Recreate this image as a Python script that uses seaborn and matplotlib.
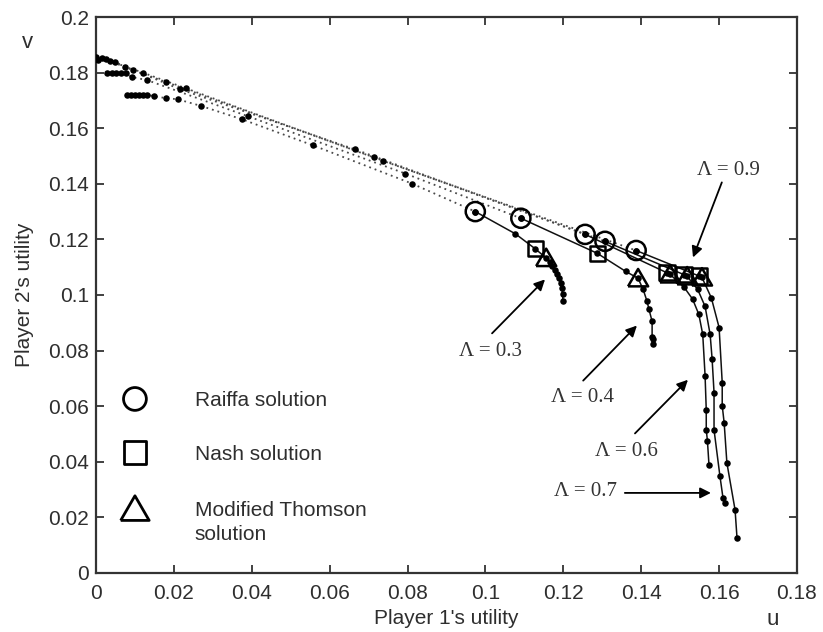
import matplotlib
matplotlib.use("Agg")
import matplotlib.pyplot as plt
import numpy as np
import pandas as pd
import seaborn as sns

# ---------------------------------------------------------------------------
# Utility frontiers for five values of Lambda.
# "upper" = dotted part from the v-axis down to the Raiffa point,
# "lower" = solid part starting at the Raiffa point.
# ---------------------------------------------------------------------------
lambdas = [0.3, 0.4, 0.6, 0.7, 0.9]

upper_u_03 = [0.0080, 0.0090, 0.0100, 0.0110, 0.0120, 0.0132, 0.0149, 0.0180, 0.0210, 0.0270, 0.0375, 0.0556, 0.0811]
upper_v_03 = [0.1720, 0.1720, 0.1720, 0.1720, 0.1720, 0.1720, 0.1715, 0.1708, 0.1704, 0.1680, 0.1632, 0.1539, 0.1401]
lower_u_03 = [0.0974, 0.1077, 0.1128, 0.1156, 0.1165, 0.1172, 0.1179, 0.1185, 0.1189, 0.1193, 0.1196, 0.1198, 0.1199]
lower_v_03 = [0.1300, 0.1220, 0.1166, 0.1133, 0.1120, 0.1106, 0.1091, 0.1075, 0.1060, 0.1043, 0.1025, 0.1005, 0.0980]

upper_u_04 = [0.0028, 0.0040, 0.0052, 0.0064, 0.0076, 0.0092, 0.0131, 0.0390, 0.0794]
upper_v_04 = [0.1798, 0.1798, 0.1798, 0.1798, 0.1798, 0.1784, 0.1773, 0.1643, 0.1437]
lower_u_04 = [0.1091, 0.1287, 0.1360, 0.1392, 0.1405, 0.1415, 0.1420, 0.1428, 0.1428, 0.1429, 0.1430]
lower_v_04 = [0.1276, 0.1150, 0.1085, 0.1060, 0.1020, 0.0977, 0.0948, 0.0905, 0.0850, 0.0840, 0.0822]

upper_u_06 = [0.0000, 0.0015, 0.0049, 0.0095, 0.0216, 0.0665]
upper_v_06 = [0.1855, 0.1852, 0.1838, 0.1810, 0.1740, 0.1524]
lower_u_06 = [0.1256, 0.1466, 0.1474, 0.1510, 0.1532, 0.1548, 0.1558, 0.1564, 0.1567, 0.1567, 0.1570, 0.1574]
lower_v_06 = [0.1218, 0.1080, 0.1074, 0.1028, 0.0985, 0.0930, 0.0858, 0.0710, 0.0587, 0.0515, 0.0476, 0.0389]

upper_u_07 = [0.0000, 0.0025, 0.0074, 0.0180, 0.0714]
upper_v_07 = [0.1850, 0.1848, 0.1820, 0.1766, 0.1495]
lower_u_07 = [0.1307, 0.1510, 0.1518, 0.1545, 0.1564, 0.1577, 0.1582, 0.1587, 0.1587, 0.1602, 0.1610, 0.1615]
lower_v_07 = [0.1193, 0.1073, 0.1067, 0.1020, 0.0959, 0.0858, 0.0771, 0.0649, 0.0515, 0.0350, 0.0270, 0.0252]

upper_u_09 = [0.0005, 0.0035, 0.0120, 0.0230, 0.0738]
upper_v_09 = [0.1845, 0.1842, 0.1800, 0.1744, 0.1482]
lower_u_09 = [0.1387, 0.1549, 0.1556, 0.1580, 0.1600, 0.1608, 0.1608, 0.1613, 0.1620, 0.1641, 0.1646]
lower_v_09 = [0.1160, 0.1068, 0.1063, 0.0990, 0.0883, 0.0685, 0.0602, 0.0540, 0.0396, 0.0227, 0.0126]

# position of each bargaining solution inside the solid part
raiffa_index = [0, 0, 0, 0, 0]
nash_index = [2, 1, 1, 1, 1]
thomson_index = [3, 3, 2, 2, 2]

x_ticks = [0, 0.02, 0.04, 0.06, 0.08, 0.10, 0.12, 0.14, 0.16, 0.18]
x_tick_labels = ["0", "0.02", "0.04", "0.06", "0.08", "0.1", "0.12", "0.14", "0.16", "0.18"]
y_ticks = [0, 0.02, 0.04, 0.06, 0.08, 0.10, 0.12, 0.14, 0.16, 0.18, 0.20]
y_tick_labels = ["0", "0.02", "0.04", "0.06", "0.08", "0.1", "0.12", "0.14", "0.16", "0.18", "0.2"]

# annotation text positions and arrow targets (data units)
label_texts = ["\u039b = 0.3", "\u039b = 0.4", "\u039b = 0.6", "\u039b = 0.7", "\u039b = 0.9"]
label_xy = [(0.1012, 0.0796), (0.1248, 0.0631), (0.1363, 0.0436), (0.1256, 0.0292), (0.1623, 0.1449)]
arrow_tail = [(0.1017, 0.0862), (0.1251, 0.0692), (0.1384, 0.0502), (0.1358, 0.0288), (0.1607, 0.1405)]
arrow_head = [(0.1153, 0.1056), (0.1389, 0.0890), (0.1520, 0.0695), (0.1579, 0.0288), (0.1533, 0.1135)]

legend_labels = ["Raiffa solution", "Nash solution", "Modified Thomson\nsolution"]

# ---------------------------------------------------------------------------
uppers = [(upper_u_03, upper_v_03), (upper_u_04, upper_v_04), (upper_u_06, upper_v_06),
          (upper_u_07, upper_v_07), (upper_u_09, upper_v_09)]
lowers = [(lower_u_03, lower_v_03), (lower_u_04, lower_v_04), (lower_u_06, lower_v_06),
          (lower_u_07, lower_v_07), (lower_u_09, lower_v_09)]

dot_rows, solid_rows, sol_rows = [], [], []
for lam, (uu, uv), (lu, lv), ri, ni, ti in zip(lambdas, uppers, lowers,
                                                raiffa_index, nash_index, thomson_index):
    # dotted path runs on to the Raiffa point
    for order, (u, v) in enumerate(zip(uu + [lu[0]], uv + [lv[0]])):
        dot_rows.append({"lam": lam, "order": order, "u": u, "v": v})
    for order, (u, v) in enumerate(zip(lu, lv)):
        solid_rows.append({"lam": lam, "order": order, "u": u, "v": v})
    sol_rows.append({"lam": lam, "solution": "Raiffa", "u": lu[ri], "v": lv[ri]})
    sol_rows.append({"lam": lam, "solution": "Nash", "u": lu[ni], "v": lv[ni]})
    sol_rows.append({"lam": lam, "solution": "Thomson", "u": lu[ti], "v": lv[ti]})

dot_df = pd.DataFrame(dot_rows)
solid_df = pd.DataFrame(solid_rows)
sol_df = pd.DataFrame(sol_rows)
points_df = pd.concat([dot_df, solid_df], ignore_index=True)

# ---------------------------------------------------------------------------
sns.set_style("ticks")
plt.rcParams["font.family"] = ["Liberation Sans", "DejaVu Sans"]
text_color = "#2e2e2e"

fig = plt.figure(figsize=(8.23, 6.32), dpi=100)
ax = fig.add_axes([0.1166, 0.0934, 0.8518, 0.8797])

# equilateral triangle marker
tri = [(-1.0, -0.80), (1.0, -0.80), (0.0, 0.93), (-1.0, -0.80)]

sns.lineplot(data=dot_df, x="u", y="v", units="lam", estimator=None, sort=False,
             color="#4a4a4a", linewidth=1.3, linestyle=(0, (1.0, 2.2)), ax=ax, legend=False)
sns.lineplot(data=solid_df, x="u", y="v", units="lam", estimator=None, sort=False,
             color="#111111", linewidth=1.1, ax=ax, legend=False)
sns.scatterplot(data=points_df, x="u", y="v", color="black", s=22, linewidth=0,
                ax=ax, legend=False, zorder=4)

sol_style = {"Raiffa": ("o", 190), "Nash": ("s", 120), "Thomson": (tri, 210)}
for name, (mk, size) in sol_style.items():
    sns.scatterplot(data=sol_df[sol_df["solution"] == name], x="u", y="v",
                    marker=mk, s=size, facecolor="none", edgecolor="black",
                    linewidth=1.8, ax=ax, legend=False, zorder=5)

# Lambda annotations
for txt, xy, tail, head in zip(label_texts, label_xy, arrow_tail, arrow_head):
    ax.text(xy[0], xy[1], txt, ha="center", va="center", fontsize=15,
            family=["Liberation Serif", "DejaVu Serif"], color="#333333")
    ax.annotate("", xy=head, xytext=tail,
                arrowprops=dict(arrowstyle="-|>", color="black", lw=1.3,
                                mutation_scale=16, shrinkA=0, shrinkB=0))

# legend keys
legend_markers = [("o", 270), ("s", 270), (tri, 420)]
legend_y = [0.313, 0.216, 0.115]
for (mk, size), ly, lab in zip(legend_markers, legend_y, legend_labels):
    ax.scatter([0.0556], [ly], marker=mk, s=size, facecolor="none", edgecolor="black",
               linewidth=2.0, transform=ax.transAxes, clip_on=False, zorder=5)
    ax.text(0.141, ly + 0.014, lab, transform=ax.transAxes, ha="left", va="top",
            fontsize=15, color=text_color, linespacing=1.32)

# axes styling
ax.set_xlim(0, 0.18)
ax.set_ylim(0, 0.2)
ax.set_xticks(x_ticks)
ax.set_xticklabels(x_tick_labels)
ax.set_yticks(y_ticks)
ax.set_yticklabels(y_tick_labels)
ax.tick_params(axis="both", direction="in", length=6, width=1.3, color="#333333",
               labelsize=15, labelcolor=text_color, top=True, right=True)
ax.tick_params(axis="x", pad=8)
ax.tick_params(axis="y", pad=5)
for sp in ax.spines.values():
    sp.set_visible(True)
    sp.set_linewidth(1.6)
    sp.set_color("#333333")

ax.set_xlabel("Player 1's utility", fontsize=15, color=text_color)
ax.set_ylabel("Player 2's utility", fontsize=15, color=text_color)
ax.xaxis.set_label_coords(0.5, -0.064)
ax.yaxis.set_label_coords(-0.088, 0.5)
ax.text(0.966, -0.083, "u", transform=ax.transAxes, ha="center", va="center",
        fontsize=16, color=text_color)
ax.text(-0.097, 0.955, "v", transform=ax.transAxes, ha="center", va="center",
        fontsize=16, color=text_color)

fig.savefig("out.png", dpi=100, facecolor="white")
